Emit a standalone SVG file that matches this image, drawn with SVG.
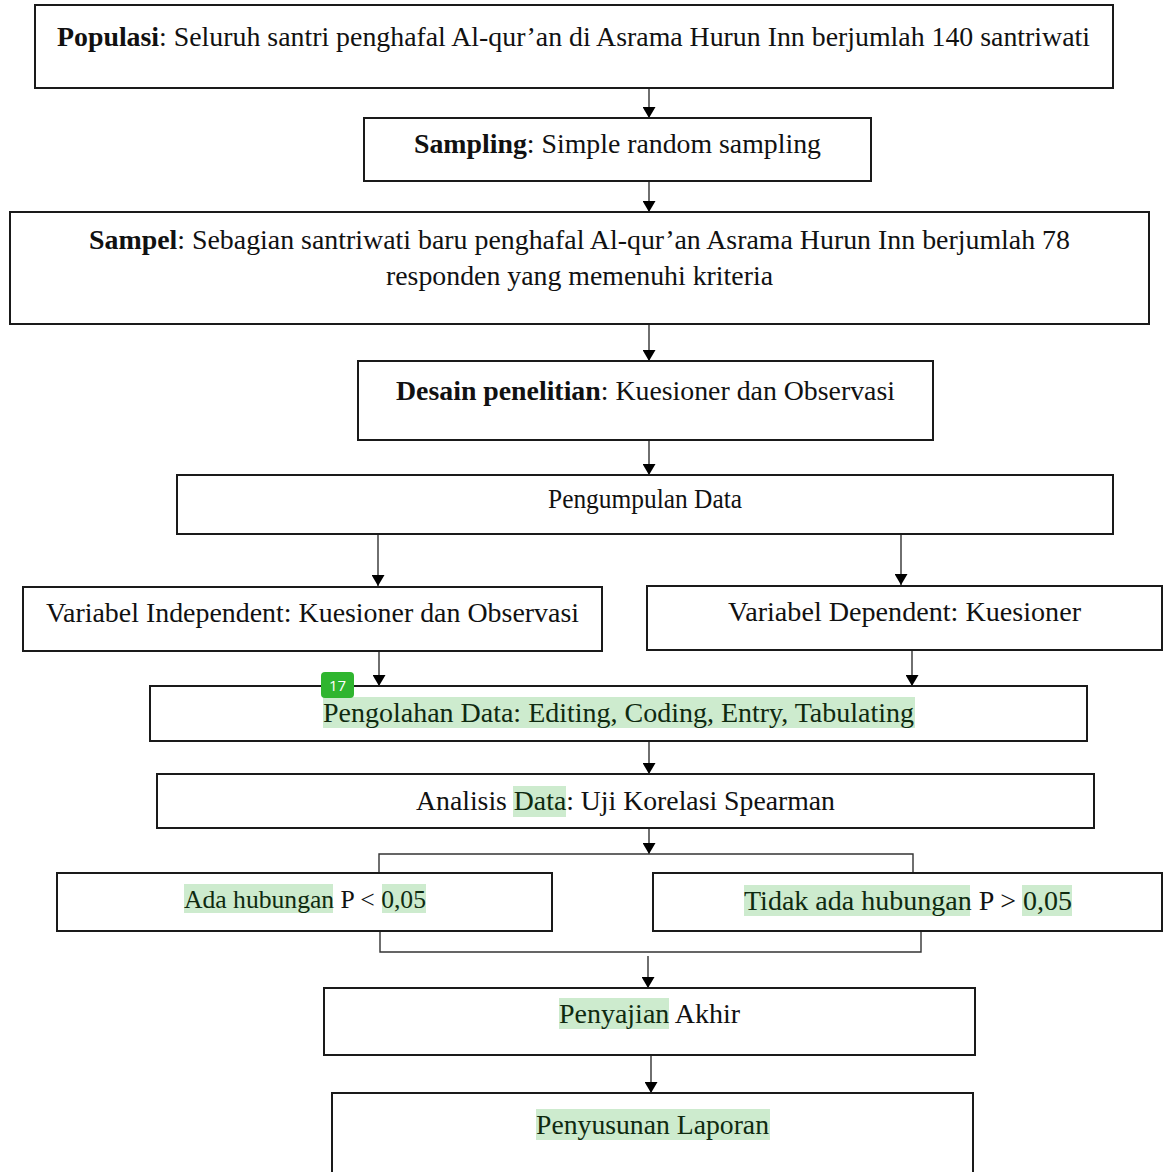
<svg xmlns="http://www.w3.org/2000/svg" width="1166" height="1172" viewBox="0 0 1166 1172">
<defs>
<marker id="arr" viewBox="0 0 12 10" refX="12" refY="5" markerWidth="11" markerHeight="13" markerUnits="userSpaceOnUse" orient="auto" preserveAspectRatio="none">
<path d="M0,0 L12,5 L0,10 z" fill="#000"/>
</marker>
<style>
.box{fill:#fff;stroke:#1a1a1a;stroke-width:2}
.t{font-family:"Liberation Serif","Times New Roman",serif;font-size:27px;fill:#111}
.b{font-weight:bold}
.hl{fill:#cdebce}
.ht{fill:#0f2a10}
.c{fill:none;stroke:#333;stroke-width:1.4}
.a{fill:none;stroke:#333;stroke-width:1.4;marker-end:url(#arr)}
</style>
</defs>
<rect width="1166" height="1172" fill="#fff"/>

<g id="connectors">
<line class="a" x1="649" y1="88" x2="649" y2="118"/>
<line class="a" x1="649" y1="181" x2="649" y2="212"/>
<line class="a" x1="649" y1="324" x2="649" y2="361"/>
<line class="a" x1="649" y1="440" x2="649" y2="475"/>
<line class="a" x1="378" y1="534" x2="378" y2="586"/>
<line class="a" x1="901" y1="534" x2="901" y2="585"/>
<line class="a" x1="379" y1="651" x2="379" y2="686"/>
<line class="a" x1="912" y1="650" x2="912" y2="686"/>
<line class="a" x1="649" y1="741" x2="649" y2="774"/>
<line class="a" x1="649" y1="828" x2="649" y2="854"/>
<polyline class="c" points="379,873 379,854 913,854 913,873"/>
<polyline class="c" points="380,931 380,952 921,952 921,931"/>
<line class="a" x1="648" y1="956" x2="648" y2="988"/>
<line class="a" x1="651" y1="1055" x2="651" y2="1093"/>
</g>

<g id="populasi">
<rect class="box" x="35" y="5" width="1078" height="83"/>
<text class="t" x="57" y="46" textLength="1033" lengthAdjust="spacingAndGlyphs"><tspan class="b">Populasi</tspan>: Seluruh santri penghafal Al-qur’an di Asrama Hurun Inn berjumlah 140 santriwati</text>
</g>

<g id="sampling">
<rect class="box" x="364" y="118" width="507" height="63"/>
<text class="t" x="414" y="153" textLength="407" lengthAdjust="spacingAndGlyphs"><tspan class="b">Sampling</tspan>: Simple random sampling</text>
</g>

<g id="sampel">
<rect class="box" x="10" y="212" width="1139" height="112"/>
<text class="t" x="89" y="249" textLength="981" lengthAdjust="spacingAndGlyphs"><tspan class="b">Sampel</tspan>: Sebagian santriwati baru penghafal Al-qur’an Asrama Hurun Inn berjumlah 78</text>
<text class="t" x="386" y="285" textLength="387" lengthAdjust="spacingAndGlyphs">responden yang memenuhi kriteria</text>
</g>

<g id="desain">
<rect class="box" x="358" y="361" width="575" height="79"/>
<text class="t" x="396" y="400" textLength="499" lengthAdjust="spacingAndGlyphs"><tspan class="b">Desain penelitian</tspan>: Kuesioner dan Observasi</text>
</g>

<g id="pengumpulan">
<rect class="box" x="177" y="475" width="936" height="59"/>
<text class="t" x="548" y="508" textLength="194" lengthAdjust="spacingAndGlyphs">Pengumpulan Data</text>
</g>

<g id="independent">
<rect class="box" x="23" y="587" width="579" height="64"/>
<text class="t" x="46" y="622" textLength="533" lengthAdjust="spacingAndGlyphs">Variabel Independent: Kuesioner dan Observasi</text>
</g>

<g id="dependent">
<rect class="box" x="647" y="586" width="515" height="64"/>
<text class="t" x="728" y="621" textLength="353" lengthAdjust="spacingAndGlyphs">Variabel Dependent: Kuesioner</text>
</g>

<g id="pengolahan">
<rect class="box" x="150" y="686" width="937" height="55"/>
<rect class="hl" x="323" y="697" width="592" height="31"/>
<text class="t ht" x="323" y="722" textLength="591" lengthAdjust="spacingAndGlyphs">Pengolahan Data: Editing, Coding, Entry, Tabulating</text>
<rect x="321" y="672" width="33" height="26" rx="4" fill="#2fb52f"/>
<text x="337.5" y="691" text-anchor="middle" style="font-family:'Open Sans','Noto Sans',sans-serif;font-size:15px;fill:#fff">17</text>
</g>

<g id="analisis">
<rect class="box" x="157" y="774" width="937" height="54"/>
<rect class="hl" x="513" y="786" width="53" height="31"/>
<text class="t" x="416" y="810" textLength="419" lengthAdjust="spacingAndGlyphs">Analisis <tspan class="ht">Data</tspan>: Uji Korelasi Spearman</text>
</g>

<g id="ada">
<rect class="box" x="57" y="873" width="495" height="58"/>
<rect class="hl" x="184" y="884" width="149" height="29"/>
<rect class="hl" x="382" y="884" width="44" height="29"/>
<text class="t" x="184" y="908" textLength="242" lengthAdjust="spacingAndGlyphs" style="font-size:25.5px"><tspan class="ht">Ada hubungan</tspan> P &lt; <tspan class="ht">0,05</tspan></text>
</g>

<g id="tidak">
<rect class="box" x="653" y="873" width="509" height="58"/>
<rect class="hl" x="744" y="885" width="226" height="31"/>
<rect class="hl" x="1022" y="885" width="50" height="31"/>
<text class="t" x="744" y="910" textLength="328" lengthAdjust="spacingAndGlyphs"><tspan class="ht">Tidak ada hubungan</tspan> P &gt; <tspan class="ht">0,05</tspan></text>
</g>

<g id="penyajian">
<rect class="box" x="324" y="988" width="651" height="67"/>
<rect class="hl" x="559" y="998" width="110" height="31"/>
<text class="t" x="559" y="1023" textLength="181" lengthAdjust="spacingAndGlyphs"><tspan class="ht">Penyajian</tspan> Akhir</text>
</g>

<g id="penyusunan">
<rect class="box" x="332" y="1093" width="641" height="100"/>
<rect class="hl" x="536" y="1109" width="234" height="31"/>
<text class="t ht" x="536" y="1134" textLength="233" lengthAdjust="spacingAndGlyphs">Penyusunan Laporan</text>
</g>
</svg>
